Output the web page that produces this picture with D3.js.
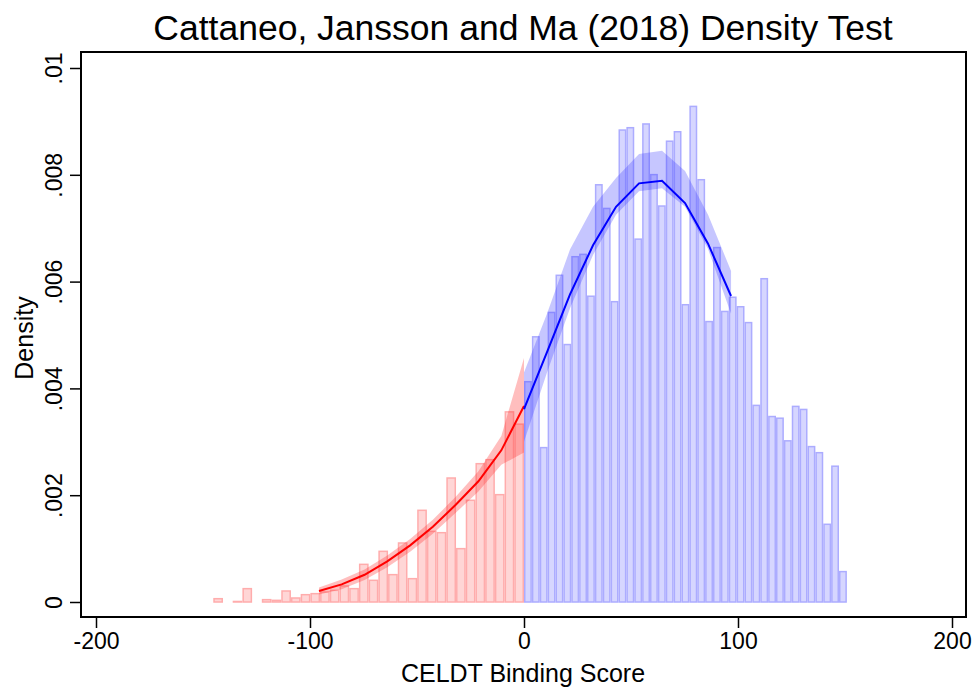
<!DOCTYPE html>
<html>
<head>
<meta charset="utf-8">
<script src="https://cdn.jsdelivr.net/npm/d3@7"></script>
<style>
  body { margin: 0; background: #fff; }
  svg { display: block; font-family: "Liberation Sans", Arial, Helvetica, sans-serif; }
</style>
</head>
<body>
<svg id="chart" width="977" height="690"></svg>
<script>
// histogram bins, left of cutoff (32 bins starting at -145.2)
var leftBinStart = -145.2;
var leftBinWidth = 4.5375;
var leftDensity = [0.000062, 0, 0.00001, 0.00025, 0, 0.000044, 0.000031, 0.000206,
  0.000075, 0.000137, 0.000156, 0.000187, 0.000218, 0.0003, 0.00025, 0.000705,
  0.000406, 0.000949, 0.000512, 0.001105, 0.000437, 0.001717, 0.001323, 0.001298,
  0.002322, 0.000999, 0.001904, 0.00259, 0.002665, 0.00201, 0.00356, 0.00333];

// histogram bins, right of cutoff (41 bins starting at 0)
var rightBinStart = 0;
var rightBinWidth = 3.68;
var rightDensity = [0.004125, 0.004966, 0.002891, 0.005422, 0.006118, 0.004821, 0.006466,
  0.00651, 0.005726, 0.007813, 0.00737, 0.005624, 0.008838, 0.008882, 0.006795,
  0.008952, 0.008003, 0.007415, 0.008629, 0.008806, 0.005567, 0.009281, 0.007908,
  0.005251, 0.006637, 0.005441, 0.005707, 0.005529, 0.005232, 0.003682, 0.006054,
  0.003473, 0.003442, 0.003018, 0.003663, 0.003606, 0.00291, 0.002796, 0.001455,
  0.002543, 0.000569];

// local polynomial density estimates + confidence bands
var leftGrid  = [-95.8, -85.2, -74.5, -63.9, -53.2, -42.6, -31.9, -21.3, -10.6, 0];
var leftFit   = [0.000206, 0.00033, 0.00051, 0.00076, 0.00106, 0.00141, 0.00182, 0.00226, 0.00284, 0.00367];
var leftLo    = [0.000140, 0.00024, 0.00041, 0.00065, 0.00094, 0.00128, 0.00167, 0.00207, 0.00257, 0.00280];
var leftHi    = [0.000270, 0.00042, 0.00061, 0.00087, 0.00118, 0.00154, 0.00197, 0.00245, 0.00311, 0.00457];

var rightGrid = [0, 10.75, 21.5, 32.25, 43, 53.75, 64.5, 75.25, 86, 96.75];
var rightFit  = [0.00361, 0.00468, 0.00576, 0.00668, 0.0074, 0.00784, 0.00789, 0.00747, 0.00671, 0.00573];
var rightLo   = [0.00300, 0.0043, 0.0055, 0.0065, 0.00725, 0.00769, 0.00775, 0.0074, 0.00661, 0.0054];
var rightHi   = [0.00430, 0.0054, 0.0066, 0.0074, 0.00794, 0.00839, 0.00845, 0.00807, 0.00725, 0.0062];

var xTicks = [-200, -100, 0, 100, 200];
var yTicks = [0, 0.002, 0.004, 0.006, 0.008, 0.01];

var frame = { left: 81, right: 966, top: 52, bottom: 617 };

var svg = d3.select('#chart');

var x = d3.scaleLinear().domain([-200, 200]).range([96, 952]);
var y = d3.scaleLinear().domain([0, 0.01]).range([602, 68]);

// bars
function drawBars(cls, start, width, values, fill, stroke) {
  var data = values.map(function(v, i) { return { x0: start + i * width, x1: start + (i + 1) * width, v: v }; })
    .filter(function(d) { return d.v > 0; });
  svg.append('g').attr('class', cls)
    .selectAll('rect')
    .data(data)
    .enter().append('rect')
    .attr('x', function(d) { return x(d.x0) + 0.75; })
    .attr('width', function(d) { return x(d.x1) - x(d.x0) - 1.5; })
    .attr('y', function(d) { return y(d.v); })
    .attr('height', function(d) { return y(0) - y(d.v); })
    .style('fill', fill)
    .style('stroke', stroke)
    .style('stroke-width', 1.5);
}

drawBars('bars-left', leftBinStart, leftBinWidth, leftDensity, '#ffd6d6', '#ffacac');
drawBars('bars-right', rightBinStart, rightBinWidth, rightDensity, '#d6d6ff', '#acacff');

// confidence bands
function drawBand(grid, lo, hi, fill) {
  var area = d3.area()
    .x(function(d, i) { return x(grid[i]); })
    .y0(function(d, i) { return y(lo[i]); })
    .y1(function(d, i) { return y(hi[i]); });
  svg.append('path')
    .datum(grid)
    .attr('d', area)
    .style('fill', fill);
}

drawBand(leftGrid, leftLo, leftHi, 'rgba(255,40,40,0.3)');
drawBand(rightGrid, rightLo, rightHi, 'rgba(50,50,255,0.28)');

// fitted lines
function drawLine(grid, fit, color) {
  var line = d3.line()
    .x(function(d, i) { return x(grid[i]); })
    .y(function(d, i) { return y(fit[i]); });
  svg.append('path')
    .datum(grid)
    .attr('d', line)
    .style('fill', 'none')
    .style('stroke', color)
    .style('stroke-width', 2);
}

drawLine(leftGrid, leftFit, '#ff0000');
drawLine(rightGrid, rightFit, '#0000ff');

// frame
svg.append('rect')
  .attr('x', frame.left)
  .attr('y', frame.top)
  .attr('width', frame.right - frame.left)
  .attr('height', frame.bottom - frame.top)
  .style('fill', 'none')
  .style('stroke', '#000')
  .style('stroke-width', 2);

// x axis
var xAxis = svg.append('g')
  .attr('transform', 'translate(0,' + frame.bottom + ')')
  .call(d3.axisBottom(x).tickValues(xTicks).tickSize(11).tickPadding(5).tickFormat(function(d) { return d; }));
xAxis.select('.domain').remove();
xAxis.selectAll('line').style('stroke-width', 1.5);
xAxis.selectAll('text').style('font-size', '23px').style('fill', '#000');

// y axis
var yFmt = function(d) { return d === 0 ? '0' : d3.format('.3~f')(d).replace(/^0/, ''); };
var yAxis = svg.append('g')
  .attr('transform', 'translate(' + frame.left + ',0)')
  .call(d3.axisLeft(y).tickValues(yTicks).tickSize(11).tickFormat(yFmt));
yAxis.select('.domain').remove();
yAxis.selectAll('line').style('stroke-width', 1.5);
yAxis.selectAll('text')
  .attr('transform', 'rotate(-90)')
  .attr('x', 0)
  .attr('y', -19)
  .attr('dy', 0)
  .attr('text-anchor', 'middle')
  .style('font-size', '23px')
  .style('fill', '#000');

// titles
svg.append('text')
  .attr('x', 523)
  .attr('y', 40)
  .attr('text-anchor', 'middle')
  .style('font-size', '35.5px')
  .text('Cattaneo, Jansson and Ma (2018) Density Test');

svg.append('text')
  .attr('x', 523)
  .attr('y', 682)
  .attr('text-anchor', 'middle')
  .style('font-size', '25px')
  .text('CELDT Binding Score');

svg.append('text')
  .attr('transform', 'translate(33,338) rotate(-90)')
  .attr('text-anchor', 'middle')
  .style('font-size', '25px')
  .text('Density');
</script>
</body>
</html>
